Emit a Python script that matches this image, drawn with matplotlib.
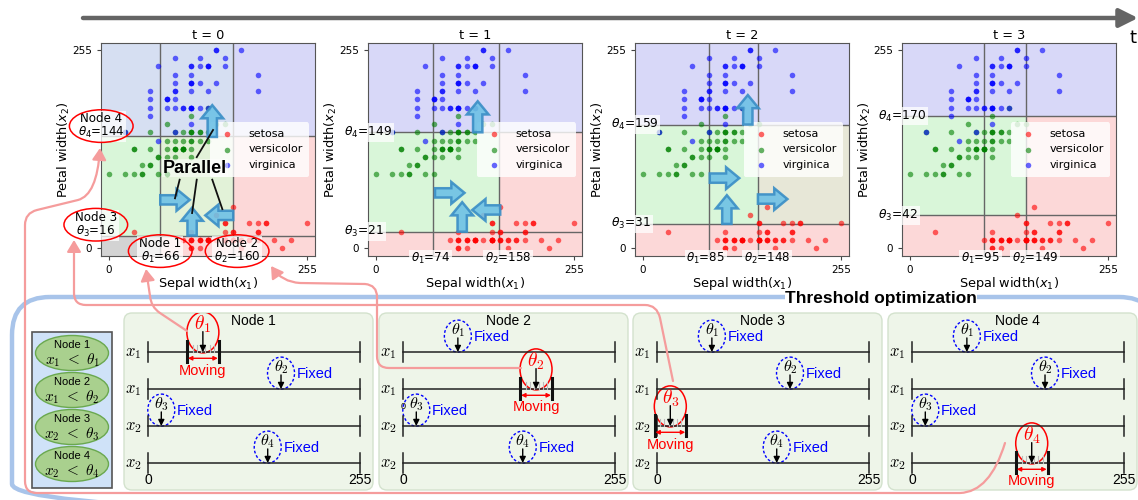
import numpy as np
import matplotlib
matplotlib.use('Agg')
import matplotlib.pyplot as plt
from matplotlib.patches import Ellipse, FancyBboxPatch, FancyArrowPatch, FancyArrow, Rectangle
from matplotlib.path import Path

W, H = 1138, 500

# Iris-Daten (Sepal width / Petal width in cm)
setosa_sw = [3.5, 3.0, 3.2, 3.1, 3.6, 3.9, 3.4, 3.4, 2.9, 3.1, 3.7, 3.4, 3.0, 3.0, 4.0, 4.4, 3.9,
             3.5, 3.8, 3.8, 3.4, 3.7, 3.6, 3.3, 3.4, 3.0, 3.4, 3.5, 3.4, 3.2, 3.1, 3.4, 4.1, 4.2,
             3.1, 3.2, 3.5, 3.6, 3.0, 3.4, 3.5, 2.3, 3.2, 3.5, 3.8, 3.0, 3.8, 3.2, 3.7, 3.3]
setosa_pw = [0.2, 0.2, 0.2, 0.2, 0.2, 0.4, 0.3, 0.2, 0.2, 0.1, 0.2, 0.2, 0.1, 0.1, 0.2, 0.4, 0.4,
             0.3, 0.3, 0.3, 0.2, 0.4, 0.2, 0.5, 0.2, 0.2, 0.4, 0.2, 0.2, 0.2, 0.2, 0.4, 0.1, 0.2,
             0.2, 0.2, 0.2, 0.1, 0.2, 0.2, 0.3, 0.3, 0.2, 0.6, 0.4, 0.3, 0.2, 0.2, 0.2, 0.2]
versicolor_sw = [3.2, 3.2, 3.1, 2.3, 2.8, 2.8, 3.3, 2.4, 2.9, 2.7, 2.0, 3.0, 2.2, 2.9, 2.9, 3.1, 3.0,
                 2.7, 2.2, 2.5, 3.2, 2.8, 2.5, 2.8, 2.9, 3.0, 2.8, 3.0, 2.9, 2.6, 2.4, 2.4, 2.7, 2.7,
                 3.0, 3.4, 3.1, 2.3, 3.0, 2.5, 2.6, 3.0, 2.6, 2.3, 2.7, 3.0, 2.9, 2.9, 2.5, 2.8]
versicolor_pw = [1.4, 1.5, 1.5, 1.3, 1.5, 1.3, 1.6, 1.0, 1.3, 1.4, 1.0, 1.5, 1.0, 1.4, 1.3, 1.4, 1.5,
                 1.0, 1.5, 1.1, 1.8, 1.3, 1.5, 1.2, 1.3, 1.4, 1.4, 1.7, 1.5, 1.0, 1.1, 1.0, 1.2, 1.6,
                 1.5, 1.6, 1.5, 1.3, 1.3, 1.3, 1.2, 1.4, 1.2, 1.0, 1.3, 1.2, 1.3, 1.3, 1.1, 1.3]
virginica_sw = [3.3, 2.7, 3.0, 2.9, 3.0, 3.0, 2.5, 2.9, 2.5, 3.6, 3.2, 2.7, 3.0, 2.5, 2.8, 3.2, 3.0,
                3.8, 2.6, 2.2, 3.2, 2.8, 2.8, 2.7, 3.3, 3.2, 2.8, 3.0, 2.8, 3.0, 2.8, 3.8, 2.8, 2.8,
                2.6, 3.0, 3.4, 3.1, 3.0, 3.1, 3.1, 3.1, 2.7, 3.2, 3.3, 3.0, 2.5, 3.0, 3.4, 3.0]
virginica_pw = [2.5, 1.9, 2.1, 1.8, 2.2, 2.1, 1.7, 1.8, 1.8, 2.5, 2.0, 1.9, 2.1, 2.0, 2.4, 2.3, 1.8,
                2.2, 2.3, 1.5, 2.3, 2.0, 2.0, 1.8, 2.1, 1.8, 1.8, 1.8, 2.1, 1.6, 1.9, 2.0, 2.2, 1.5,
                1.4, 2.3, 2.4, 1.8, 1.8, 2.1, 2.4, 2.3, 1.9, 2.3, 2.5, 2.3, 1.9, 2.0, 2.3, 1.8]

species = ['setosa', 'versicolor', 'virginica']
species_sw = [setosa_sw, versicolor_sw, virginica_sw]
species_pw = [setosa_pw, versicolor_pw, virginica_pw]
species_colors = ['red', 'green', 'blue']

# Schwellwerte pro Zeitschritt
theta1 = [66, 74, 85, 95]
theta2 = [160, 158, 148, 149]
theta3 = [16, 21, 31, 42]
theta4 = [144, 149, 159, 170]

# Regionsfarben: Zeilen (oben, mitte, unten) x Spalten (links, mitte, rechts)
LAV, GRN, PNK = '#d8d8f8', '#d9f6d9', '#fcd8d8'
region_colors = [
    [['#d6dff2', '#d6dff2', LAV], [GRN, '#e2f2d8', PNK], ['#d3d3d3', PNK, PNK]],
    [[LAV, LAV, LAV], [GRN, GRN, PNK], [PNK, PNK, PNK]],
    [[LAV, LAV, LAV], [GRN, GRN, '#e7e7d7'], [PNK, PNK, PNK]],
    [[LAV, LAV, LAV], [GRN, GRN, PNK], [PNK, PNK, PNK]],
]

# Blaue Pfeile (x, y, dx, dy) je Zeitschritt
blue_arrows = [
    [(133, 143, 0, 41), (66, 62, 38, 0), (107, 16, 0, 36), (160, 42, -36, 0)],
    [(131, 149, 0, 40), (76, 71, 38, 0), (111, 21, 0, 38), (160, 49, -36, 0)],
    [(135, 159, 0, 38), (86, 90, 38, 0), (108, 31, 0, 37), (148, 63, 38, 0)],
    [],
]

# Schwellwertoptimierung (unten)
node_theta = [66, 160, 16, 144]
row_labels = ['$x_1$', '$x_1$', '$x_2$', '$x_2$']
node_rules = [r'$x_1\ <\ \theta_1$', r'$x_1\ <\ \theta_2$', r'$x_2\ <\ \theta_3$', r'$x_2\ <\ \theta_4$']


def scale(v, lo):
    return (np.array(v) - lo) / 2.4 * 255


fig = plt.figure(figsize=(11.38, 5.0), dpi=100)

bg = fig.add_axes([0, 0, 1, 1], zorder=-5)
bg.set_xlim(0, W); bg.set_ylim(H, 0); bg.axis('off')
top = fig.add_axes([0, 0, 1, 1], zorder=10)
top.set_xlim(0, W); top.set_ylim(H, 0); top.axis('off')

lbl_box = dict(boxstyle='square,pad=0.15', fc='white', ec='none', alpha=0.75)

# ---------- obere Streudiagramme ----------
panel_left = [101, 368, 635, 902]
for k in range(4):
    L = panel_left[k]
    ax = fig.add_axes([L / W, 1 - 256 / H, 214 / W, 213 / H])
    ax.set_xlim(-10.3, 265.3)
    ax.set_ylim(-10.3, 264)
    xb = [-10.3, theta1[k], theta2[k], 265.3]
    yb = [264, theta4[k], theta3[k], -10.3]
    for i in range(3):
        for j in range(3):
            ax.add_patch(Rectangle((xb[j], yb[i + 1]), xb[j + 1] - xb[j], yb[i] - yb[i + 1],
                                   fc=region_colors[k][i][j], ec='none', zorder=0))
    for v in (theta1[k], theta2[k]):
        ax.axvline(v, color='#666666', lw=1, zorder=1)
    for v in (theta3[k], theta4[k]):
        ax.axhline(v, color='#666666', lw=1, zorder=1)
    for s in range(3):
        ax.scatter(scale(species_sw[s], 2.0), scale(species_pw[s], 0.1), s=16,
                   color=species_colors[s], alpha=0.6, lw=0, label=species[s], zorder=2)
    ax.legend(loc='center right', fontsize=8, framealpha=0.8, edgecolor='none',
              handletextpad=0.9, borderpad=0.6).set_zorder(5)
    ax.set_xticks([0, 255]); ax.set_yticks([0, 255])
    ax.tick_params(labelsize=7.5, length=3, color='#444444')
    for sp in ax.spines.values():
        sp.set_color('#555555')
    ax.set_title(f't = {k}', fontsize=9.3, pad=3)
    ax.set_xlabel('Sepal width($x_1$)', fontsize=9.3, labelpad=0)
    ax.set_ylabel('Petal width($x_2$)', fontsize=9.3, labelpad=0)

    for (x, y, dx, dy) in blue_arrows[k]:
        ax.add_patch(FancyArrow(x, y, dx, dy, width=12, head_width=28, head_length=17,
                                length_includes_head=True, fc='#6ec1e6', ec='#3a8ec6',
                                lw=1.8, alpha=0.9, zorder=6))

    if k == 0:
        labels = [(theta1[0], -4, 1, theta1[0]), (theta2[0] + 5, -4, 2, theta2[0]),
                  (-17, theta3[0] + 14, 3, theta3[0]), (-10, theta4[0] + 13, 4, theta4[0])]
        for (x, y, n, val) in labels:
            ax.text(x, y, f'Node {n}\n' + rf'$\theta_{n}$={val}', ha='center', va='center',
                    fontsize=8.6, linespacing=1.0, bbox=lbl_box, clip_on=False, zorder=7)
            ax.add_patch(Ellipse((x, y), 82, 42, fc='none', ec='red', lw=1.1,
                                 clip_on=False, zorder=8))
        ax.text(111, 103, 'Parallel', fontsize=13, fontweight='bold', family='Liberation Sans',
                ha='center', va='center', zorder=7,
                bbox=dict(boxstyle='square,pad=0.05', fc='white', ec='none', alpha=0.5))
        for (x0, y0, x1, y1) in [(113, 117, 134, 152), (91, 88, 85, 64),
                                 (113, 88, 107, 45), (133, 88, 146, 50)]:
            ax.plot([x0, x1], [y0, y1], color='#111111', lw=1.3, zorder=7)
    else:
        ax.text(theta1[k] - 4, -14, rf'$\theta_1$={theta1[k]}', ha='center', va='center',
                fontsize=8.6, bbox=lbl_box, clip_on=False, zorder=7)
        ax.text(theta2[k] + 12, -14, rf'$\theta_2$={theta2[k]}', ha='center', va='center',
                fontsize=8.6, bbox=lbl_box, clip_on=False, zorder=7)
        ax.text(-41, theta3[k], rf'$\theta_3$={theta3[k]}', ha='left', va='center',
                fontsize=8.8, bbox=lbl_box, clip_on=False, zorder=7)
        ax.text(-41, theta4[k], rf'$\theta_4$={theta4[k]}', ha='left', va='center',
                fontsize=8.8, bbox=lbl_box, clip_on=False, zorder=7)

# ---------- Zeitachse ----------
top.add_patch(FancyArrowPatch((83, 18), (1138, 18), arrowstyle='-|>,head_length=0.7,head_width=0.35',
                              mutation_scale=16, lw=3.2, color='#656565', shrinkA=0, shrinkB=0))
top.text(1133, 38, 't', fontsize=13, ha='center', va='center')

# ---------- unterer Rahmen ----------
bg.add_patch(FancyBboxPatch((12, 297), 1145, 225, boxstyle='round,pad=0,rounding_size=38',
                            fc='none', ec='#a8c4ea', lw=3.2))
top.text(881, 299, 'Threshold optimization', fontsize=12.5, fontweight='bold',
         family='Liberation Sans', ha='center', va='center',
         bbox=dict(boxstyle='square,pad=0.03', fc='white', ec='none'))

# Legende links
top.add_patch(Rectangle((32, 332), 80, 156, fc='#cfe2f8', ec='#555555', lw=1.2))
for i in range(4):
    cy = 353 + i * 37
    top.add_patch(Ellipse((72, cy), 73, 35, fc='#a9d08e', ec='#6aa84f', lw=1))
    top.text(72, cy - 8, f'Node {i + 1}', fontsize=8, family='Liberation Sans',
             ha='center', va='center')
    top.text(72, cy + 7, node_rules[i], fontsize=11, math_fontfamily='cm',
             ha='center', va='center')

# Knoten-Panels
PX = 212 / 255
ROW = 37
line_left = [148, 403, 657, 912]
for p in range(4):
    LX = line_left[p]
    bg.add_patch(FancyBboxPatch((LX - 24, 313), 249, 177, boxstyle='round,pad=0,rounding_size=8',
                                fc='#eef5e9', ec='#d3e2cd', lw=1))
    ax = fig.add_axes([(LX - 24) / W, 1 - 490 / H, 249 / W, 177 / H])
    ax.axis('off')
    ax.set_xlim(-24 / PX, 225 / PX)
    ax.set_ylim((490 - 352) / ROW, (313 - 352) / ROW)
    ax.text(127, -0.83, f'Node {p + 1}', fontsize=10, family='Liberation Sans',
            ha='center', va='center')
    for r in range(4):
        ax.plot([0, 255], [r, r], color='#222222', lw=1.1)
        for e in (0, 255):
            ax.plot([e, e], [r - 0.27, r + 0.27], color='#222222', lw=1.1)
        ax.text(-18, r, row_labels[r], fontsize=12, math_fontfamily='cm',
                ha='center', va='center')
        th = node_theta[r]
        if r == p:
            for d in (-12, -7, -2, 3, 8, 13):
                ax.plot([th + d, th + d], [r - 0.18, r], color='#bbbbbb', lw=0.8)
            ax.add_patch(Ellipse((th, r - 0.53), 32 / PX, 41 / ROW, fc='none', ec='red', lw=1.1))
            ax.text(th, r - 0.74, rf'$\theta_{r + 1}$', color='red', fontsize=14,
                    math_fontfamily='cm', ha='center', va='center')
            ax.annotate('', xy=(th, r), xytext=(th, r - 0.55),
                        arrowprops=dict(arrowstyle='-|>', color='black', lw=1,
                                        shrinkA=0, shrinkB=0, mutation_scale=9))
            for e in (th - 19, th + 19):
                ax.plot([e, e], [r - 0.3, r + 0.27], color='#111111', lw=2.2)
            ax.annotate('', xy=(th + 18, r + 0.17), xytext=(th - 18, r + 0.17),
                        arrowprops=dict(arrowstyle='<|-|>', color='red', lw=1,
                                        shrinkA=0, shrinkB=0, mutation_scale=6))
            ax.text(th, r + 0.5, 'Moving', color='red', fontsize=10.5,
                    family='Liberation Sans', ha='center', va='center')
        else:
            ax.add_patch(Ellipse((th, r - 0.43), 27 / PX, 32 / ROW, fc='none', ec='blue',
                                 ls=(0, (2, 1.5)), lw=1))
            ax.text(th, r - 0.6, rf'$\theta_{r + 1}$', fontsize=11.5, math_fontfamily='cm',
                    ha='center', va='center')
            ax.annotate('', xy=(th, r), xytext=(th, r - 0.38),
                        arrowprops=dict(arrowstyle='-|>', color='black', lw=1,
                                        shrinkA=0, shrinkB=0, mutation_scale=9))
            ax.text(th + 19, r - 0.4, 'Fixed', color='blue', fontsize=10.5,
                    family='Liberation Sans', ha='left', va='center')
    if p == 1:
        ax.text(0, 1.46, '0', fontsize=6.5, family='Liberation Sans', ha='center', va='center')
    ax.text(0, 3.45, '0', fontsize=10, family='Liberation Sans', ha='center', va='center')
    ax.text(255, 3.45, '255', fontsize=10, family='Liberation Sans', ha='center', va='center')

# ---------- rosa Verbindungslinien ----------
M, Ln, Q = Path.MOVETO, Path.LINETO, Path.CURVE3
pink_paths = [
    ([(1005, 443), (990, 492), (960, 493), (37, 493), (25, 493), (25, 481), (25, 225),
      (25, 213), (37, 210), (78, 200), (97, 195), (100, 148)],
     [M, Q, Q, Ln, Q, Q, Ln, Q, Q, Ln, Q, Q]),
    ([(673, 381), (660, 318), (657, 305), (645, 305), (86, 305), (74, 305), (74, 293), (74, 240)],
     [M, Ln, Q, Q, Ln, Q, Q, Ln]),
    ([(521, 368), (389, 368), (377, 368), (377, 356), (377, 297), (377, 285), (365, 284),
      (300, 283), (282, 282), (271, 266)],
     [M, Ln, Q, Q, Ln, Q, Q, Ln, Q, Q]),
    ([(187, 331), (160, 313), (151, 307), (150, 296), (146, 269)],
     [M, Ln, Q, Q, Ln]),
]
for verts, codes in pink_paths:
    top.add_patch(FancyArrowPatch(path=Path(verts, codes), arrowstyle='-|>,head_length=0.5,head_width=0.3',
                                  mutation_scale=14, lw=1.6, color='#f59c9c'))

fig.savefig('out.png', dpi=100)
